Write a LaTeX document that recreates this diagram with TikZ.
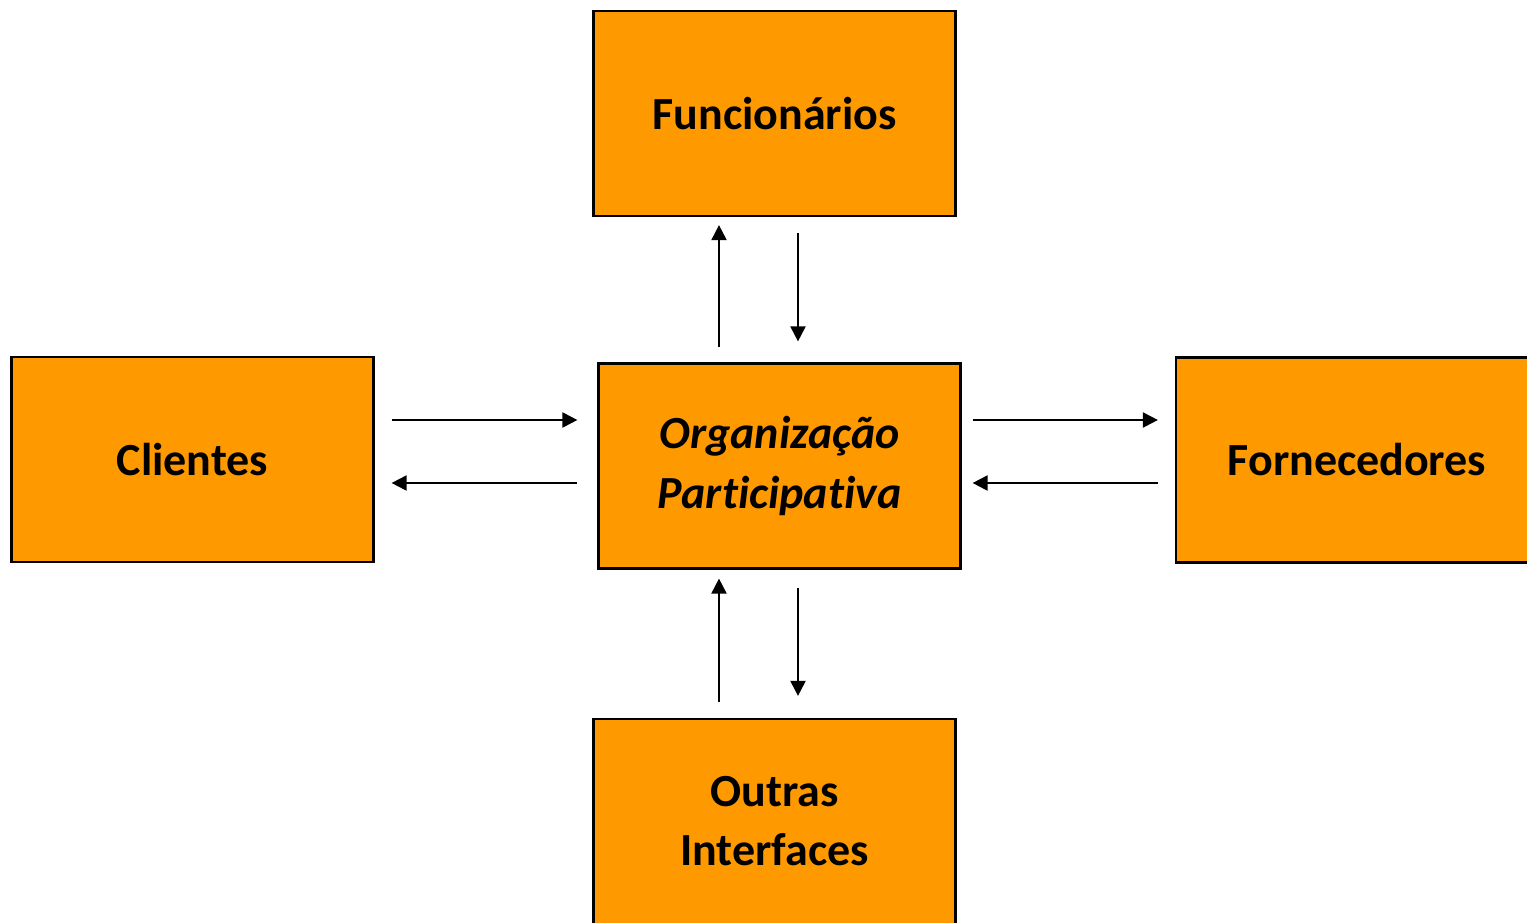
\documentclass[tikz,border=0pt]{standalone}
\usepackage{fontspec}
\setmainfont[Ligatures=NoCommon]{Carlito}
\usepackage{xcolor}
\usetikzlibrary{arrows.meta,calc}
\definecolor{boxorange}{RGB}{255,153,0}

\begin{document}
\begin{tikzpicture}[
			x=0.5pt,
			y=-0.5pt,
			actor/.style={
				rectangle,
				draw=black,
				line width=1.1pt,
				fill=boxorange,
				minimum width=181pt,
				minimum height=102.5pt,
				align=center,
				inner sep=0pt,
				font=\fontsize{23}{29.5}\selectfont\bfseries
			},
			arrow/.style={-{Triangle[length=7.5pt,width=7.5pt]}, line width=1pt}
			]
			\useasboundingbox (0,0) rectangle (1527,922);
			\clip (0,0) rectangle (1527,922);
			% The organisation in the middle and its four partners
			\node[actor, font=\fontsize{23}{30}\selectfont\bfseries\itshape] (organizacao) at (779.5,466) {Organização\\Participativa};
			\node[actor] (funcionarios) at (774.5,113.5) {Funcionários};
			\node[actor] (clientes) at (192.5,459.5) {Clientes};
			\node[actor] (fornecedores) at (1357,460) {Fornecedores};
			\node[actor] (outras) at (774.5,821.5) {Outras\\Interfaces};
			% Pairs of arrows between the organisation and each partner
			\draw[arrow] ($(organizacao.north)+(-60.5,-15)$) -- ($(funcionarios.south)+(-55.5,8)$);
			\draw[arrow] ($(funcionarios.south)+(23.5,16)$) -- ($(organizacao.north)+(18.5,-21)$);
			\draw[arrow] ($(clientes.east)+(17,-39.5)$) -- ($(organizacao.west)+(-20,-46)$);
			\draw[arrow] ($(organizacao.west)+(-20,17)$) -- ($(clientes.east)+(17,23.5)$);
			\draw[arrow] ($(organizacao.east)+(11,-46)$) -- ($(fornecedores.west)+(-17,-40)$);
			\draw[arrow] ($(fornecedores.west)+(-17,23)$) -- ($(organizacao.east)+(11,17)$);
			\draw[arrow] ($(outras.north)+(-55.5,-16)$) -- ($(organizacao.south)+(-60.5,9)$);
			\draw[arrow] ($(organizacao.south)+(18.5,18)$) -- ($(outras.north)+(23.5,-22)$);
		\end{tikzpicture}
\end{document}
